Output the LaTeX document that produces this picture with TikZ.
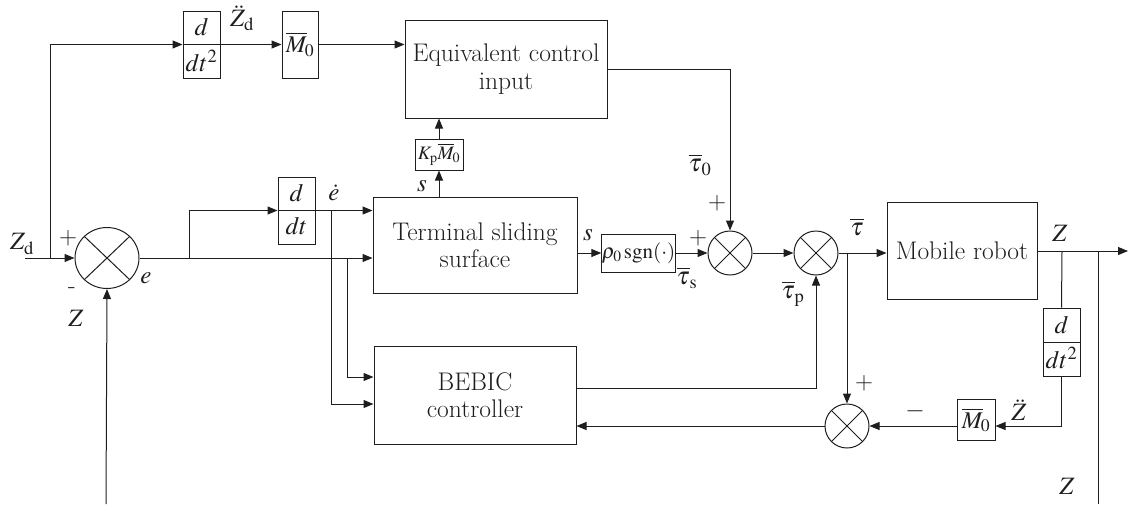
\documentclass[tikz,border=0pt]{standalone}
\usepackage{mathptmx}
\usetikzlibrary{arrows.meta,shapes.geometric}
\definecolor{ln}{RGB}{30,30,30}
\newcommand{\tnr}{\rmfamily}
\begin{document}
\begin{tikzpicture}[x=1pt,y=-1pt,line width=1pt,color=ln,
  >={Triangle[length=10pt,width=8pt]},
  blk/.style={draw,rectangle,inner sep=0pt,align=center,font=\tnr\fontsize{25.5}{29.5}\selectfont},
  fracbox/.style={draw,rectangle,inner sep=0pt,minimum width=37pt,minimum height=67pt},
  gain/.style={draw,rectangle,inner sep=0pt,font=\tnr\fontsize{24}{28}\selectfont},
  sum/.style={draw,ellipse,inner sep=0pt,path picture={\draw (path picture bounding box.north west) -- (path picture bounding box.south east) (path picture bounding box.south west) -- (path picture bounding box.north east);}},
  lbl/.style={font=\tnr\fontsize{25}{29}\selectfont,inner sep=0pt}]
\useasboundingbox (0,0) rectangle (1129,504);

% blocks
\node[fracbox] (dd1) at (201.5,44.5) {};
\node[gain,minimum width=36pt,minimum height=67pt] (M01) at (300,44.5) {$\overline{M}_{\!0}$};
\node[blk,minimum width=202pt,minimum height=98pt] (eq) at (506,69) {Equivalent control\\[-2pt]input};
\node[gain,minimum width=48pt,minimum height=31pt,font=\tnr\fontsize{19}{22}\selectfont] (kp) at (439,154.5) {$K_{\mathrm p}\overline{M}_{\!0}$};
\node[fracbox] (dd2) at (296.5,210.5) {};
\node[blk,minimum width=204pt,minimum height=96pt] (term) at (475,245) {Terminal sliding\\[-2pt]surface};
\node[gain,minimum width=73pt,minimum height=38pt,font=\tnr\fontsize{21}{24}\selectfont] (rho) at (638.5,253) {$\rho_0\,\mathrm{sgn}(\cdot)$};
\node[blk,minimum width=202pt,minimum height=98pt] (bebic) at (475,395) {BEBIC\\[-2pt]controller};
\node[blk,minimum width=150pt,minimum height=97pt] (robot) at (962,250.5) {Mobile robot};
\node[fracbox,minimum height=68pt] (dd3) at (1061.5,342) {};
\node[gain,minimum width=38pt,minimum height=41pt] (M02) at (976,420) {$\overline{M}_{\!0}$};

% summers
\node[sum,minimum width=64pt,minimum height=61pt] (s1) at (107,258) {};
\node[sum,minimum width=44pt,minimum height=44pt] (s2) at (730,253) {};
\node[sum,minimum width=44pt,minimum height=44pt] (s3) at (816,253) {};
\node[sum,minimum width=44pt,minimum height=44pt] (s4) at (847,426) {};

% fraction contents
\draw (dd1.west) -- (dd1.east);
\node[lbl] (dd1n) at ([yshift=17pt]dd1.center) {$d$};
\node[lbl] (dd1d) at ([yshift=-16pt]dd1.center) {$dt^2$};
\draw (dd2.west) -- (dd2.east);
\node[lbl] (dd2n) at ([yshift=17pt]dd2.center) {$d$};
\node[lbl] (dd2d) at ([yshift=-16pt]dd2.center) {$dt$};
\draw (dd3.west) -- (dd3.east);
\node[lbl] (dd3n) at ([yshift=17pt]dd3.center) {$d$};
\node[lbl] (dd3d) at ([yshift=-16pt]dd3.center) {$dt^2$};

% coordinates
\coordinate (zin) at (25,258);
\coordinate (br0) at (50,258);
\coordinate (br1) at (189,258);
\coordinate (br2) at (331,210.5);
\coordinate (br3) at (347,258);
\coordinate (br4) at (847,253);
\coordinate (br5) at (1062,251);
\coordinate (br6) at (1098,251);
\coordinate (zout) at (1128,251);
\coordinate (zbot) at (1098,504);
\coordinate (zfb) at (106,504);

% connectors
\draw[->] (zin) -- (s1.west);
\draw[->] (br0) |- (dd1.west);
\draw[->] (dd1.east) -- (M01.west);
\draw[->] (M01.east) -- (M01.east -| eq.west);
\draw[->] (s1.east) -- (s1.east -| term.west);
\draw[->] (br1) |- (dd2.west);
\draw[->] (dd2.east) -- (dd2.east -| term.west);
\draw[->] (br2) |- ([yshift=-9pt]bebic.west);
\draw[->] (br3) |- ([yshift=18pt]bebic.west);
\draw[->] (kp.south |- term.north) -- (kp.south);
\draw[->] (kp.north) -- (kp.north |- eq.south);
\draw[->] (eq.east) -| (s2.north);
\draw[->] (term.east |- rho.west) -- (rho.west);
\draw[->] (rho.east) -- (s2.west);
\draw[->] (s2.east) -- (s3.west);
\draw[->] (s3.east) -- (s3.east -| robot.west);
\draw[->] ([yshift=7pt]bebic.east) -| (s3.south);
\draw[->] (br4) -- (s4.north);
\draw[->] (robot.east |- zout) -- (zout);
\draw (br5) -- (dd3.north);
\draw[->] (dd3.south) |- (M02.east |- s4);
\draw[->] (M02.west |- s4) -- (s4.east);
\draw[->] (s4.west) -- (s4.west -| bebic.east);
\draw (br6) -- (zbot);
\draw[->] (zfb) -- (s1.south);

% labels
\node[lbl] (lZd) at (22,244) {$Z_{\mathrm d}$};
\node[lbl] (lp1) at (68,238) {+};
\node[lbl] (lm1) at (72,291) {-};
\node[lbl] (lZ1) at (76,318) {$Z$};
\node[lbl] (le) at (146,278) {$e$};
\node[lbl] (lZdd) at (242,18) {$\ddot{Z}_{\mathrm d}$};
\node[lbl] (led) at (334,193) {$\dot{e}$};
\node[lbl] (ls1) at (422,186) {$s$};
\node[lbl] (lt0) at (700,165) {$\overline{\tau}_0$};
\node[lbl] (lp2) at (717,203) {+};
\node[lbl] (ls2) at (588,235) {$s$};
\node[lbl] (lp3) at (698,238) {+};
\node[lbl] (lts) at (687,278) {$\overline{\tau}_{\mathrm s}$};
\node[lbl] (ltp) at (793,294) {$\overline{\tau}_{\mathrm p}$};
\node[lbl] (lt) at (857,227) {$\overline{\tau}$};
\node[lbl] (lZ2) at (1060,233) {$Z$};
\node[lbl] (lZdd2) at (1019,410) {$\ddot{Z}$};
\node[lbl] (lm2) at (915,411) {$-$};
\node[lbl] (lp4) at (864,383) {+};
\node[lbl] (lZ3) at (1067,486) {$Z$};
\end{tikzpicture}
\end{document}
